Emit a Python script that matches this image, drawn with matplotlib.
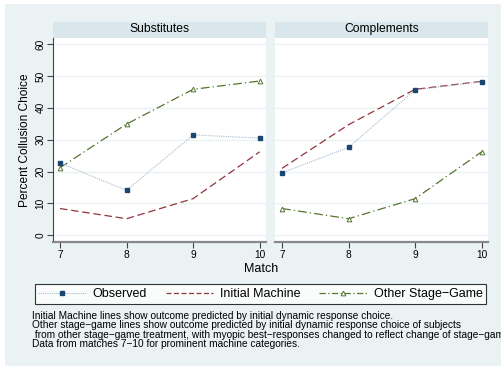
import matplotlib
matplotlib.use("Agg")
import matplotlib.pyplot as plt
from matplotlib.patches import Rectangle
from matplotlib.lines import Line2D

plt.rcParams['font.family'] = ['Liberation Sans', 'DejaVu Sans']

matches = [7, 8, 9, 10]
panels = ["Substitutes", "Complements"]
observed = {"Substitutes": [22.7, 14.1, 31.5, 30.5],
            "Complements": [19.6, 27.6, 45.6, 48.2]}
initial_machine = {"Substitutes": [8.4, 5.2, 11.5, 26.2],
                   "Complements": [21.0, 34.7, 45.8, 48.3]}
other_stage = {"Substitutes": [21.2, 34.9, 45.8, 48.4],
               "Complements": [8.4, 5.2, 11.5, 26.2]}
yticks = [0, 10, 20, 30, 40, 50, 60]
series_labels = ["Observed", "Initial Machine", "Other Stage\u2212Game"]
notes = ("Initial Machine lines show outcome predicted by initial dynamic response choice.\n"
         "Other stage\u2212game lines show outcome predicted by initial dynamic response choice of subjects\n"
         " from other stage\u2212game treatment, with myopic best\u2212responses changed to reflect change of stage\u2212game.\n"
         "Data from matches 7\u221210 for prominent machine categories.")

W, H = 502, 366
fig = plt.figure(figsize=(W / 100, H / 100), dpi=100)
fig.patch.set_facecolor("white")

BG = "#EAF2F3"
STRIP = "#D9E6EB"
NAVY = "#1A476F"
OBSLINE = "#A9BCCF"
MAROON = "#90353B"
GREEN = "#55752F"

def px(x0, y0, x1, y1):
    return [x0 / W, 1 - y1 / H, (x1 - x0) / W, (y1 - y0) / H]

fig.patches.append(Rectangle((5 / W, 0), 1 - 5 / W, 1 - 4 / H, transform=fig.transFigure,
                             facecolor=BG, edgecolor="none", zorder=-10))

panel_px = [(53, 266), (275, 488)]
top, bot = 38, 242
for i, (name, (x0, x1)) in enumerate(zip(panels, panel_px)):
    fig.patches.append(Rectangle((x0 / W, 1 - top / H), (x1 - x0) / W, 16 / H,
                                 transform=fig.transFigure, facecolor=STRIP,
                                 edgecolor="none", zorder=-5))
    fig.text((x0 + x1) / 2 / W, 1 - 29 / H, name, ha="center", va="center", fontsize=8.7)
    ax = fig.add_axes(px(x0, top, x1, bot))
    ax.set_facecolor("white")
    ax.set_xlim(6.895, 10.095)
    ax.set_ylim(-2.1, 61.9)
    for y in yticks:
        ax.axhline(y, color=BG, lw=1.0, zorder=0)
    ax.plot(matches, observed[name], color=OBSLINE, lw=0.8, ls=(0, (1, 1)),
            marker="s", ms=3.2, mfc=NAVY, mec=NAVY, zorder=3)
    ax.plot(matches, initial_machine[name], color=MAROON, lw=0.9, ls=(0, (6, 3)), zorder=2)
    ax.plot(matches, other_stage[name], color=GREEN, lw=0.9, ls=(0, (7, 2.5, 1, 2.5)),
            marker="^", ms=3.4, mfc="white", mec=GREEN, mew=0.7, zorder=2)
    for s in ["top", "right"]:
        ax.spines[s].set_visible(False)
    ax.spines["bottom"].set_color("#888888")
    ax.spines["bottom"].set_linewidth(1.6)
    ax.set_xticks(matches)
    ax.set_xticklabels([str(m) for m in matches], fontsize=7.3)
    ax.tick_params(axis="x", length=4, width=0.8, color="#444444", pad=1.5)
    if i == 0:
        ax.spines["left"].set_color("#444444")
        ax.spines["left"].set_linewidth(0.8)
        ax.set_yticks(yticks)
        ax.set_yticklabels([str(y) for y in yticks], fontsize=7.3, rotation=90, va="center")
        ax.tick_params(axis="y", length=4, width=0.8, color="#444444", pad=1.5)
        ax.set_ylabel("Percent Collusion Choice", fontsize=8.6, labelpad=3)
    else:
        ax.spines["left"].set_visible(False)
        ax.set_yticks([])

fig.text(261 / W, 1 - 269 / H, "Match", ha="center", va="center", fontsize=9)

handles = [
    Line2D([], [], color=OBSLINE, lw=0.8, ls=(0, (1, 1)), marker="s", ms=3.2, mfc=NAVY, mec=NAVY),
    Line2D([], [], color=MAROON, lw=0.9, ls=(0, (4, 2))),
    Line2D([], [], color=GREEN, lw=0.9, ls=(0, (5, 2, 1, 2)), marker="^", ms=3.4,
           mfc="white", mec=GREEN, mew=0.7),
]
leg = fig.legend(handles, series_labels, loc="center", bbox_to_anchor=(260.5 / W, 1 - 294 / H),
                 ncol=3, fontsize=9, frameon=True, fancybox=False, handlelength=3.8,
                 columnspacing=1.5, handletextpad=0.55, borderpad=0.3, borderaxespad=0)
leg.get_frame().set_edgecolor("black")
leg.get_frame().set_linewidth(0.8)
leg.get_frame().set_facecolor("white")

fig.text(32 / W, 1 - 311 / H, notes, ha="left", va="top", fontsize=7.25, linespacing=0.92)

fig.savefig("out.png", dpi=100, facecolor=fig.get_facecolor())
